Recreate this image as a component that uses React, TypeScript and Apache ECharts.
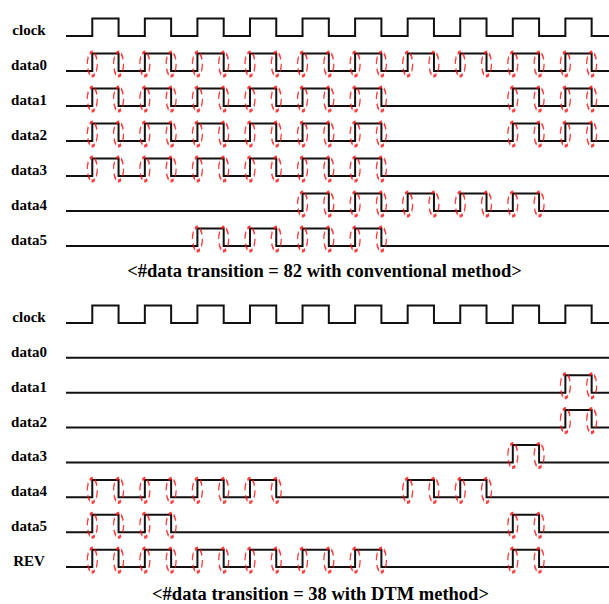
import React, { useEffect, useRef } from "react";
import * as echarts from "echarts";

// Signal names per panel
const upperNames = ["clock", "data0", "data1", "data2", "data3", "data4", "data5"];
const lowerNames = ["clock", "data0", "data1", "data2", "data3", "data4", "data5", "REV"];

// Clock-cycle indices (0..9) during which each signal is high
const upperPulses: number[][] = [
  [0, 1, 2, 3, 4, 5, 6, 7, 8, 9],
  [0, 1, 2, 3, 4, 5, 6, 7, 8, 9],
  [0, 1, 2, 3, 4, 5, 8, 9],
  [0, 1, 2, 3, 4, 5, 8, 9],
  [0, 1, 2, 3, 4, 5],
  [4, 5, 6, 7, 8],
  [2, 3, 4, 5],
];
const lowerPulses: number[][] = [
  [0, 1, 2, 3, 4, 5, 6, 7, 8, 9],
  [],
  [9],
  [9],
  [8],
  [0, 1, 2, 3, 6, 7],
  [0, 1, 8],
  [0, 1, 2, 3, 4, 5, 8],
];

const captions = [
  "<#data transition = 82 with conventional method>",
  "<#data transition = 38 with DTM method>",
];

const X_MAX = 20.66; // in half clock periods

function waveform(row: number, pulses: number[]): number[][] {
  const pts: number[][] = [[0, row]];
  const hi = row - 0.5;
  pulses.forEach((k) => {
    const a = 2 * k + 1;
    const b = 2 * k + 2;
    pts.push([a, row], [a, hi], [b, hi], [b, row]);
  });
  pts.push([X_MAX, row]);
  return pts;
}

function edges(row: number, pulses: number[]): number[][] {
  const pts: number[][] = [];
  pulses.forEach((k) => {
    pts.push([2 * k + 1, row - 0.2], [2 * k + 2, row - 0.2]);
  });
  return pts;
}

export default function App() {
  const ref = useRef<HTMLDivElement>(null);
  useEffect(() => {
    if (!ref.current) return;
    const chart = echarts.init(ref.current, undefined, { renderer: "svg" });
    const font = "'Liberation Serif', 'Times New Roman', serif";
    const series: any[] = [];
    const panels = [
      { names: upperNames, pulses: upperPulses },
      { names: lowerNames, pulses: lowerPulses },
    ];
    panels.forEach((p, gi) => {
      const ell: number[][] = [];
      p.names.forEach((n, r) => {
        series.push({
          type: "line",
          name: n,
          xAxisIndex: gi,
          yAxisIndex: gi,
          data: waveform(r, p.pulses[r]),
          symbol: "none",
          lineStyle: { color: "#111", width: 2, join: "miter" },
          silent: true,
        });
        if (n !== "clock") ell.push(...edges(r, p.pulses[r]));
      });
      series.push({
        type: "scatter",
        xAxisIndex: gi,
        yAxisIndex: gi,
        data: ell,
        symbol: "circle",
        symbolSize: [10, 24],
        itemStyle: {
          color: "rgba(0,0,0,0)",
          borderColor: "#ff1010",
          borderWidth: 2,
          borderType: [5, 3],
        },
        silent: true,
        z: 5,
      });
    });
    const yAxis = (gi: number, names: string[]) => ({
      type: "value",
      gridIndex: gi,
      inverse: true,
      min: -1,
      max: names.length,
      interval: 1,
      axisLine: { show: false },
      axisTick: { show: false },
      splitLine: { show: false },
      axisLabel: {
        margin: 37,
        align: "center",
        verticalAlign: "bottom",
        lineHeight: 12,
        fontFamily: font,
        fontWeight: "bold",
        fontSize: 15,
        color: "#000",
        formatter: (v: number) => (v >= 0 && v < names.length ? names[v] : ""),
      },
    });
    const xAxis = (gi: number) => ({
      type: "value",
      gridIndex: gi,
      min: 0,
      max: X_MAX,
      show: false,
    });
    const capStyle = {
      fontFamily: font,
      fontWeight: "bold",
      fontSize: 18.5,
      fill: "#000",
      textAlign: "center",
      textVerticalAlign: "middle",
    };
    chart.setOption({
      animation: false,
      backgroundColor: "#fff",
      grid: [
        { left: 66, right: 0, top: 1, height: 280 },
        { left: 66, right: 0, top: 288, height: 314 },
      ],
      xAxis: [xAxis(0), xAxis(1)],
      yAxis: [yAxis(0, upperNames), yAxis(1, lowerNames)],
      series,
      graphic: [
        { type: "text", x: 324.5, y: 270.5, style: { ...capStyle, text: captions[0] } },
        { type: "text", x: 320.5, y: 594, style: { ...capStyle, text: captions[1] } },
      ],
    });
    return () => chart.dispose();
  }, []);
  return (
    <div
      ref={ref}
      style={{ position: "fixed", left: 0, top: 0, width: 609, height: 604 }}
    />
  );
}
